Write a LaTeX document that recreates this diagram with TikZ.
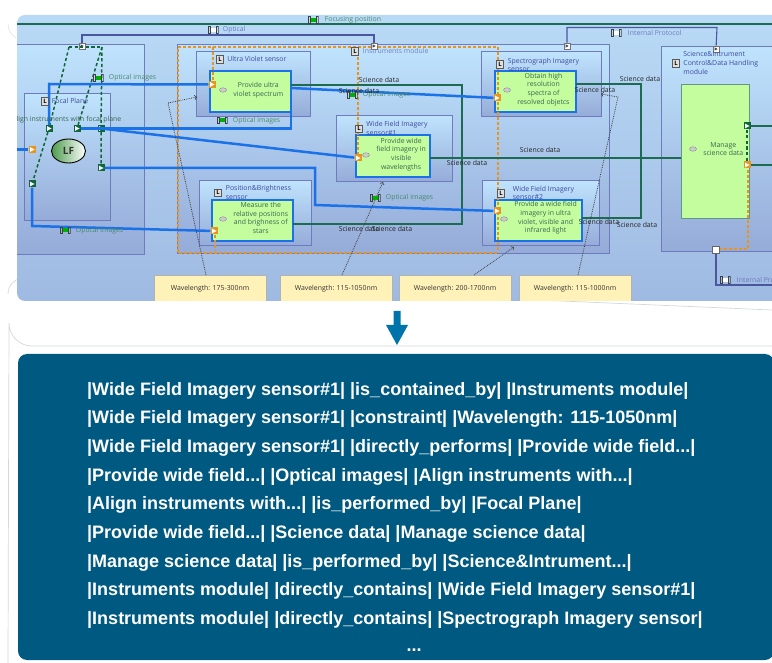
\documentclass[tikz,border=0pt]{standalone}
\usepackage{xcolor}
\usepackage{fontspec}
\setmainfont{Open Sans}
\newfontfamily\codefont{Liberation Sans}
\usepackage{tikz}
\usetikzlibrary{arrows,shapes,calc,positioning}

\definecolor{paneltop}{HTML}{B9DAF6}
\definecolor{panelbot}{HTML}{9FBAE2}
\definecolor{boxtop}{HTML}{BFE3FD}
\definecolor{boxbot}{HTML}{95ABD8}
\definecolor{boxline}{HTML}{6F7BBC}
\definecolor{flowblue}{HTML}{1B72E8}
\definecolor{fngreen}{HTML}{C4FD9E}
\definecolor{linegreen}{HTML}{1D6B50}
\definecolor{dashgreen}{HTML}{0F6638}
\definecolor{dashorange}{HTML}{E8951F}
\definecolor{protoblue}{HTML}{4A569E}
\definecolor{labelgreen}{HTML}{4A8A6A}
\definecolor{titleblue}{HTML}{3D4AA0}
\definecolor{noteyellow}{HTML}{FFF2B8}
\definecolor{navy}{HTML}{005980}
\definecolor{arrowblue}{HTML}{0073AA}
\definecolor{framegray}{HTML}{D4D8DC}

\tikzset{
  modbox/.style={draw=boxline, line width=1pt, top color=boxtop, bottom color=boxbot, inner sep=0pt, outer sep=0pt},
  fnbox/.style={draw=flowblue, line width=2.6pt, fill=fngreen, inner sep=0pt, outer sep=0pt},
  notebox/.style={draw=black!30, line width=.6pt, fill=noteyellow, inner sep=0pt, outer sep=0pt, font=\fontsize{6.9}{8}\selectfont, text=black!80},
  fnlabel/.style={inner sep=0pt, align=center, text=labelgreen!75!black, font=\fontsize{6.9}{8.6}\selectfont},
  title/.style={inner sep=0pt, align=left, text=titleblue, font=\fontsize{6.9}{8.6}\selectfont},
  flowlabel/.style={inner sep=0pt, text=labelgreen, font=\fontsize{6.9}{8}\selectfont},
  datalabel/.style={inner sep=0pt, text=black!85, font=\fontsize{6.9}{8}\selectfont},
  eye/.style={draw=black!45, fill=black!20, ellipse, inner sep=0pt, minimum width=7pt, minimum height=4.5pt},
  licon/.style={draw=black!65, fill=black!12, inner sep=0pt, minimum width=7pt, minimum height=7.5pt, font=\fontsize{6}{6}\bfseries\selectfont},
  flowicon/.style={inner sep=0pt, minimum width=11pt, minimum height=7.5pt,
    path picture={\begin{scope}[shift={(path picture bounding box.center)}]
      \fill[#1] (-3.5pt,-2pt) rectangle (3.5pt,2pt);
      \draw[black!75, line width=.8pt] (-5pt,-3.2pt) rectangle (-3pt,3.2pt) (3pt,-3.2pt) rectangle (5pt,3.2pt);
      \end{scope}}},
  flowicon/.default=green!70!black,
  port/.style={fill=#1, inner sep=0pt, minimum size=7pt},
  tri/.style={path picture={\fill[white, shift={(path picture bounding box.center)}, rotate=#1] (-2pt,-2.4pt) -- (2.6pt,0pt) -- (-2pt,2.4pt) -- cycle;}},
  openport/.style={draw=black!55, fill=white, inner sep=0pt, minimum size=6.5pt,
    path picture={\fill[black!70, shift={(path picture bounding box.center)}, rotate=#1] (-1.5pt,-1.7pt) -- (1.7pt,0pt) -- (-1.5pt,1.7pt) -- cycle;}},
  blueflow/.style={draw=flowblue, line width=2.5pt},
  greenflow/.style={draw=linegreen, line width=1.4pt},
  greendash/.style={draw=dashgreen, line width=1.5pt, dash pattern=on 3.2pt off 2.4pt},
  orangedash/.style={draw=dashorange, line width=1.3pt, dash pattern=on 3pt off 2pt},
  protoline/.style={draw=protoblue, line width=1.1pt},
  noteline/.style={draw=black!75, line width=.8pt, densely dotted, ->},
  textline/.style={inner sep=0pt, anchor=west, yshift=-2pt, text=white, font=\codefont\fontsize{18}{20}\bfseries\selectfont}
}

\begin{document}
\begin{tikzpicture}[x=1pt,y=-1pt]
\useasboundingbox (0,0) rectangle (772,663);

\coordinate(O1) at (0,0);

% outer frames
\draw[framegray, line width=.4pt] (8,24) arc[start angle=180, end angle=120, radius=16];
\draw[framegray, line width=.7pt] (8,294) arc[start angle=180, end angle=270, radius=16] -- (772,310);
\draw[framegray, line width=.7pt] (772,346) -- (32,346) arc[start angle=90, end angle=180, radius=23] -- (8,663);

% top panel
\begin{scope}
\clip[rounded corners=8pt] (17,15) rectangle (790,301);
\path[top color=paneltop, bottom color=panelbot] (17,15) rectangle (790,301);

\node[modbox, below right=45pt and 7pt of O1, minimum width=137pt, minimum height=210pt](fpm) {};
\node[modbox, below right=94pt and 24pt of O1, minimum width=86pt, minimum height=127pt](fp) {};
\node[modbox, below right=45pt and 177pt of O1, minimum width=432pt, minimum height=209pt](im) {};
\node[modbox, below right=47pt and 661pt of O1, minimum width=130pt, minimum height=205pt](sm) {};

\node[modbox, below right=52pt and 196pt of O1, minimum width=114pt, minimum height=65pt](uv) {};
\node[modbox, below right=181pt and 199pt of O1, minimum width=112pt, minimum height=65pt](pb) {};
\node[modbox, below right=116pt and 336pt of O1, minimum width=116pt, minimum height=66pt](wf1) {};
\node[modbox, below right=52pt and 481pt of O1, minimum width=120pt, minimum height=65pt](sp) {};
\node[modbox, below right=181pt and 482pt of O1, minimum width=117pt, minimum height=65pt](wf2) {};

\node[fnbox, below right=71pt and 210pt of O1, minimum width=81pt, minimum height=41pt](fuv) {};
\node[fnbox, below right=200pt and 212pt of O1, minimum width=81pt, minimum height=41pt](fpb) {};
\node[fnbox, below right=135pt and 356pt of O1, minimum width=74pt, minimum height=42pt](fwf1) {};
\node[fnbox, below right=71pt and 495pt of O1, minimum width=81pt, minimum height=41pt](fsp) {};
\node[fnbox, below right=200pt and 495pt of O1, minimum width=87pt, minimum height=41pt](fwf2) {};
\node[draw=linegreen!70, line width=.8pt, fill=fngreen, inner sep=0pt, outer sep=0pt, below right=84pt and 681pt of O1, minimum width=68pt, minimum height=134pt](fsm) {};

% orange dashes
\draw[orangedash] (498,250) -- (498,47) -- (178,47) -- (178,253) -- (498,253);
\draw[orangedash] (213,47) -- (213,82);
\draw[orangedash] (358,47) -- (358,160);
\draw[orangedash] (215,230) -- (215,251);
\draw[orangedash] (748,165) -- (748,249) -- (716,249);

% notes
\node[notebox, below right=275pt and 154pt of O1, minimum width=112pt, minimum height=34pt](n1) {\raisebox{8pt}{Wavelength: 175-300nm}};
\node[notebox, below right=275pt and 280pt of O1, minimum width=112pt, minimum height=34pt](n2) {\raisebox{8pt}{Wavelength: 115-1050nm}};
\node[notebox, below right=275pt and 399pt of O1, minimum width=112pt, minimum height=34pt](n3) {\raisebox{8pt}{Wavelength: 200-1700nm}};
\node[notebox, below right=275pt and 519pt of O1, minimum width=112pt, minimum height=34pt](n4) {\raisebox{8pt}{Wavelength: 115-1000nm}};

% ports
\node[port=dashorange, tri=0] at (32,149.5) (pin) {};
\node[port=dashgreen, tri=90] at (49,128.5) (pa1) {};
\node[port=dashgreen, tri=90] at (77,128.5) (pa2) {};
\node[port=dashgreen, tri=90] at (101,128.5) (pa3) {};
\node[port=dashgreen, tri=0] at (101,168) (pa4) {};
\node[port=dashgreen, tri=180] at (32,184) (pa5) {};
\node[port=dashorange, tri=0] at (212,84.5) (puv) {};
\node[port=dashorange, tri=0] at (214,231) (ppb) {};
\node[port=dashorange, tri=0] at (358,158) (pwf1) {};
\node[port=dashorange, tri=0] at (497,98) (psp) {};
\node[port=dashorange, tri=0] at (497,211) (pwf2) {};
\node[port=dashgreen, tri=0] at (747,126) (pout1) {};
\node[port=dashorange, tri=180] at (747,165) (pout2) {};
\node[openport=90] at (82,46) (pt1) {};
\node[openport=-90] at (374,46) (pt2) {};
\node[openport=90] at (567,46) (pt3) {};
\node[openport=-90] at (716,49) (pt4) {};
\node[draw=black!60, line width=.7pt, fill=white, inner sep=0pt, minimum size=7pt] at (716,250) (pt5) {};

\coordinate(d1) at (69,47);
\coordinate(d2) at (102,47);
\coordinate(e1) at (17,149.5);
\coordinate(e2) at (800,126);
\coordinate(e3) at (800,165);
\coordinate(e4) at (800,285);
\coordinate(e5) at (17,24);
\coordinate(e6) at (800,24);

% protocol lines
\draw[protoline] (pt1) -- (82,35) -- (374,35) -- (pt2);
\draw[protoline] (pt3) -- (567,27.5) -- (717,27.5) -- (pt4);
\draw[protoline] (pt5) |- (e4);
\draw[greenflow] (e5) -- (e6);

% optical lines
\draw[greendash] (d1) -- (d2);
\draw[greendash] (d1) -- (pa1) -- (pa5);
\draw[greendash] (d2) -- (pa2);
\draw[greendash] (d2) -- (pa3) -- (pa4);
\draw[greendash] (pout1) -- (pout2);

% science data
\draw[greenflow] (fuv.east|-0,85) -- (462,85) -- (462,224) -- (fpb.east|-0,224);
\draw[greenflow] (fsp.east|-0,84) -- (641,84) -- (641,218) -- (fwf2.east|-0,218);
\draw[greenflow] (fwf1.east|-0,158) -- (fsm.west|-0,158);
\draw[greenflow] (pout1) -- (e2);
\draw[greenflow] (pout2) -- (e3);

% image flows
\draw[blueflow] (e1) -- (pin);
\draw[blueflow] (pa1) -- (49,84) -- (puv);
\draw[blueflow] (pa2) -- (291,128.5) -- (fuv.south east);
\draw[blueflow] (pa3) -- (pwf1);
\draw[blueflow] (pa4) -- (315,168) -- (315,205) -- (pwf2);
\draw[blueflow] (pa5) -- (32,226) -- (ppb);
\draw[blueflow] (fuv.east|-0,88) -- (psp);

% constraints
\draw[noteline] (n1.north west)++(52,0) -- (168,103) -- (197,97);
\draw[noteline] (n2.north west)++(62,0) -- (383,182);
\draw[noteline] (n3.north west)++(75,0) -- (514,247);
\draw[noteline] (n4.north west)++(59,0) -- (618,97) -- (601,94);

% function texts
\node[eye] at (223,90) (euv) {};
\node[fnlabel, right=6.5pt of euv](tuv) {Provide ultra\\violet spectrum};
\node[eye] at (223,219) (epb) {};
\node[fnlabel, right=6.5pt of epb, yshift=1pt](tpb) {Measure the\\relative positions\\and brighness of\\stars};
\node[eye] at (366,155) (ewf1) {};
\node[fnlabel, right=6.5pt of ewf1, yshift=.5pt](twf1) {Provide wide\\field imagery in\\visible\\wavelengths};
\node[eye] at (507,90) (esp) {};
\node[fnlabel, right=6.5pt of esp, yshift=.5pt](tsp) {Obtain high\\resolution\\spectra of\\resolved objetcs};
\node[eye] at (504,219) (ewf2) {};
\node[fnlabel, right=6.5pt of ewf2, yshift=1pt](twf2) {Provide a wide field\\imagery in ultra\\violet, visible and\\infrared light};
\node[eye] at (693,149) (esm) {};
\node[fnlabel, right=6.5pt of esm](tsm) {Manage\\science data};
\node[fnlabel, anchor=west] at (12,120) (tfp) {Align instruments with focal plane};
\node at (68.5,151) [draw=black, line width=.9pt, ellipse, inner sep=0pt, minimum width=34pt, minimum height=24pt, left color=green!45!black!70, right color=white, font=\fontsize{10}{10}\bfseries\selectfont, text=black!80](lf) {LF};

% module titles
\node[licon] at (45,101) (lfp) {L};
\node[title, right=3pt of lfp](tlfp) {Focal Plane};
\node[licon] at (355,51) (lim) {L};
\node[title, right=4pt of lim, text=titleblue!70](tlim) {Instruments module};
\node[licon] at (220,59) (luv) {L};
\node[title, right=3.5pt of luv, yshift=.5pt](tluv) {Ultra Violet sensor};
\node[licon] at (218,192.5) (lpb) {L};
\node[title, right=4pt of lpb](tlpb) {Position\&Brightness\\sensor};
\node[licon] at (359,128.5) (lwf1) {L};
\node[title, right=3.5pt of lwf1](tlwf1) {Wide Field Imagery\\sensor\#1};
\node[licon] at (500,64) (lsp) {L};
\node[title, right=4pt of lsp, yshift=-1pt](tlsp) {Spectrograph Imagery\\sensor};
\node[licon] at (501,193) (lwf2) {L};
\node[title, right=8pt of lwf2](tlwf2) {Wide Field Imagery\\sensor\#2};
\node[licon] at (676,63) (lsm) {L};
\node[title, right=3.5pt of lsm](tlsm) {Science\&Intrument\\Control\&Data Handling\\module};

% flow labels
\node[flowicon] at (313,20) (ifocus) {};
\node[flowlabel, right=6pt of ifocus](lfocus) {Focusing position};
\node[flowicon=white] at (213,30) (iopt) {};
\node[flowlabel, right=4pt of iopt, text=boxline](lopt) {Optical};
\node[flowicon=white] at (616,33) (iprot) {};
\node[flowlabel, right=6pt of iprot, text=boxline](lprot) {Internal Protocol};
\node[flowicon=white] at (725,280) (iprot2) {};
\node[flowlabel, right=6pt of iprot2, text=boxline](lprot2) {Internal Protocol};
\node[flowicon] at (98,78) (io1) {};
\node[flowlabel, right=5pt of io1](lo1) {Optical images};
\node[flowicon] at (222,120.5) (io2) {};
\node[flowlabel, right=5pt of io2](lo2) {Optical images};
\node[flowicon] at (65,230.5) (io3) {};
\node[flowlabel, right=5pt of io3](lo3) {Optical images};
\node[flowicon] at (352,95) (io4) {};
\node[flowlabel, right=5pt of io4](lo4) {Optical images};
\node[flowicon] at (375,198) (io5) {};
\node[flowlabel, right=5pt of io5](lo5) {Optical images};

% data labels
\node[datalabel] at (379,80) (sd1) {Science data};
\node[datalabel] at (359,90.5) (sd2) {Science data};
\node[datalabel] at (640,79) (sd3) {Science data};
\node[datalabel] at (595,89.5) (sd4) {Science data};
\node[datalabel] at (467,163) (sd5) {Science data};
\node[datalabel] at (540,150) (sd6) {Science data};
\node[datalabel] at (359,229) (sd7) {Science data};
\node[datalabel] at (392,229) (sd8) {Science data};
\node[datalabel] at (599,222) (sd9) {Science data};
\node[datalabel] at (637,224.5) (sd10) {Science data};
\end{scope}

% arrow between the panels
\fill[arrowblue] (393.5,311) -- (400.5,311) -- (400.5,325) -- (408,325) -- (397,345) -- (386,325) -- (393.5,325) -- cycle;

% triple panel
\node[fill=navy, rounded corners=9pt, inner sep=0pt, outer sep=0pt, below right=354pt and 18pt of O1, minimum width=756pt, minimum height=306pt](triples) {};
\node[textline] at (87,388.5) (t1) {|Wide Field Imagery sensor\#1| |is\_contained\_by| |Instruments module|};
\node[textline] at (87,417) (t2) {|Wide Field Imagery sensor\#1| |constraint| |Wavelength: 115-1050nm|};
\node[textline] at (87,446) (t3) {|Wide Field Imagery sensor\#1| |directly\_performs| |Provide wide field...|};
\node[textline] at (87,474.5) (t4) {|Provide wide field...| |Optical images| |Align instruments with...|};
\node[textline] at (87,503) (t5) {|Align instruments with...| |is\_performed\_by| |Focal Plane|};
\node[textline] at (87,532) (t6) {|Provide wide field...| |Science data| |Manage science data|};
\node[textline] at (87,561) (t7) {|Manage science data| |is\_performed\_by| |Science\&Intrument...|};
\node[textline] at (87,589) (t8) {|Instruments module| |directly\_contains| |Wide Field Imagery sensor\#1|};
\node[textline] at (87,618) (t9) {|Instruments module| |directly\_contains| |Spectrograph Imagery sensor|};
\node[textline, anchor=center] at (414,648) (t10) {...};
\end{tikzpicture}
\end{document}
